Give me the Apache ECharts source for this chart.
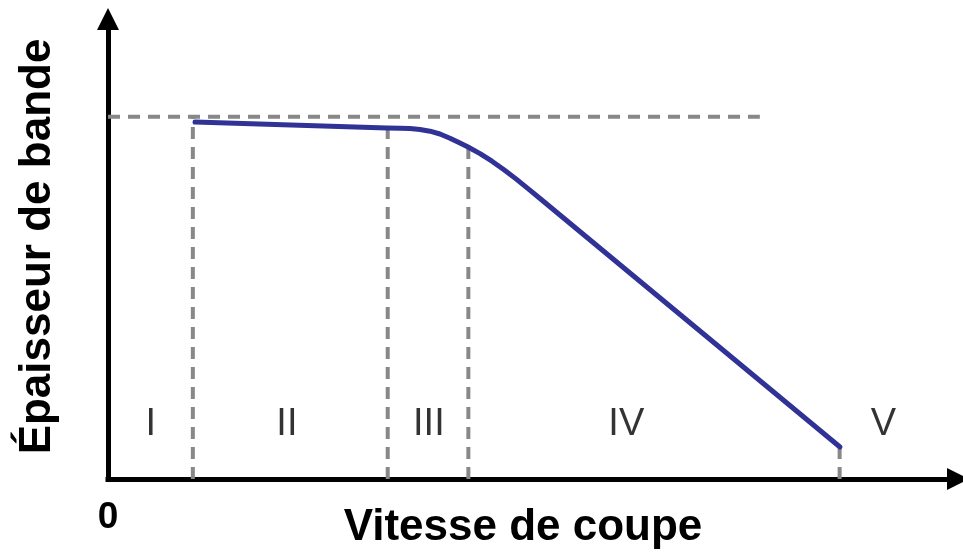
<!DOCTYPE html>
<html>
<head>
<meta charset="utf-8">
<script src="https://cdn.jsdelivr.net/npm/echarts@6/dist/echarts.min.js"></script>
<style>
  html, body { margin: 0; padding: 0; background: #ffffff; }
  #chart { width: 963px; height: 557px; }
</style>
</head>
<body>
<div id="chart"></div>
<script>
// Band thickness versus cutting speed (schematic, arbitrary units 0–100)
const curveX = [10.36, 33.21, 34.76, 35.95, 37.14, 38.33, 39.52, 40.71, 41.90, 42.86,
                44.29, 45.71, 47.14, 48.57, 50.00, 51.43, 87.14];
const curveY = [79.51, 78.17, 78.13, 78.04, 77.84, 77.46, 76.84, 75.90, 74.83, 73.94,
                72.47, 70.78, 68.89, 66.84, 64.68, 62.47, 7.13];

// Reference thickness level (horizontal dashed line)
const levelY = 80.7;
const levelEndX = 77.6;

// Region boundaries (vertical dashed lines) and where each one meets the curve
const boundaryX = [10.1, 33.3, 42.9, 87.1];
const boundaryTopY = [80.7, 78.2, 73.9, 7.1];

// Region names and where they sit
const regionNames = ['I', 'II', 'III', 'IV', 'V'];
const regionLabelX = [5.1, 21.3, 38.2, 61.7, 92.3];
const regionLabelY = 12.2;

const xTitle = 'Vitesse de coupe';
const yTitle = 'Épaisseur de bande';
const originLabel = '0';

const FONT = '"Liberation Sans", Arial, sans-serif';
const dashStyle = { color: '#888888', width: 4, type: [12, 8] };

const series = [];

// horizontal reference level
series.push({
  type: 'line',
  data: [[0, levelY], [levelEndX, levelY]],
  showSymbol: false,
  silent: true,
  lineStyle: dashStyle,
  z: 2
});

// vertical region boundaries
boundaryX.forEach(function (bx, i) {
  series.push({
    type: 'line',
    data: [[bx, 0], [bx, boundaryTopY[i]]],
    showSymbol: false,
    silent: true,
    lineStyle: dashStyle,
    z: 2
  });
});

// the thickness curve
series.push({
  type: 'line',
  data: curveX.map(function (x, i) { return [x, curveY[i]]; }),
  showSymbol: false,
  smooth: false,
  lineStyle: { color: '#313296', width: 5, cap: 'round', join: 'round' },
  z: 5
});

// region labels
series.push({
  type: 'scatter',
  data: regionNames.map(function (n, i) { return { name: n, value: [regionLabelX[i], regionLabelY] }; }),
  symbolSize: 0,
  silent: true,
  label: {
    show: true,
    position: 'inside',
    formatter: '{b}',
    color: '#000000',
    fontFamily: FONT,
    fontSize: 38
  },
  z: 6
});

const chart = echarts.init(document.getElementById('chart'), null, { renderer: 'canvas' });
chart.setOption({
  animation: false,
  backgroundColor: '#ffffff',
  grid: { left: 108, right: 15, top: 30, bottom: 78, containLabel: false, outerBoundsMode: 'none' },
  xAxis: {
    type: 'value',
    min: 0,
    max: 100,
    interval: 100,
    name: xTitle,
    nameLocation: 'middle',
    nameGap: 27,
    nameMoveOverlap: false,
    nameTextStyle: { fontFamily: FONT, fontWeight: 'bold', fontSize: 44, color: '#000000', padding: [0, 10, 0, 0] },
    axisLine: {
      show: true,
      symbol: ['none', 'triangle'],
      symbolSize: [22, 22],
      symbolOffset: [0, 10],
      lineStyle: { color: '#000000', width: 5, cap: 'square' }
    },
    axisTick: { show: false },
    splitLine: { show: false },
    axisLabel: {
      show: true,
      showMaxLabel: false,
      margin: 20,
      fontFamily: FONT,
      fontWeight: 'bold',
      fontSize: 37,
      color: '#000000',
      formatter: function (v) { return v === 0 ? originLabel : ''; }
    }
  },
  yAxis: {
    type: 'value',
    min: 0,
    max: 100,
    name: yTitle,
    nameLocation: 'middle',
    nameRotate: 90,
    nameGap: 48,
    nameMoveOverlap: false,
    nameTextStyle: { fontFamily: FONT, fontWeight: 'bold', fontSize: 44, color: '#000000', padding: [0, 0, 0, 16] },
    axisLine: {
      show: true,
      symbol: ['none', 'triangle'],
      symbolSize: [22, 22],
      symbolOffset: [0, 11],
      lineStyle: { color: '#000000', width: 5, cap: 'square' }
    },
    axisTick: { show: false },
    splitLine: { show: false },
    axisLabel: { show: false }
  },
  series: series
});
</script>
</body>
</html>
